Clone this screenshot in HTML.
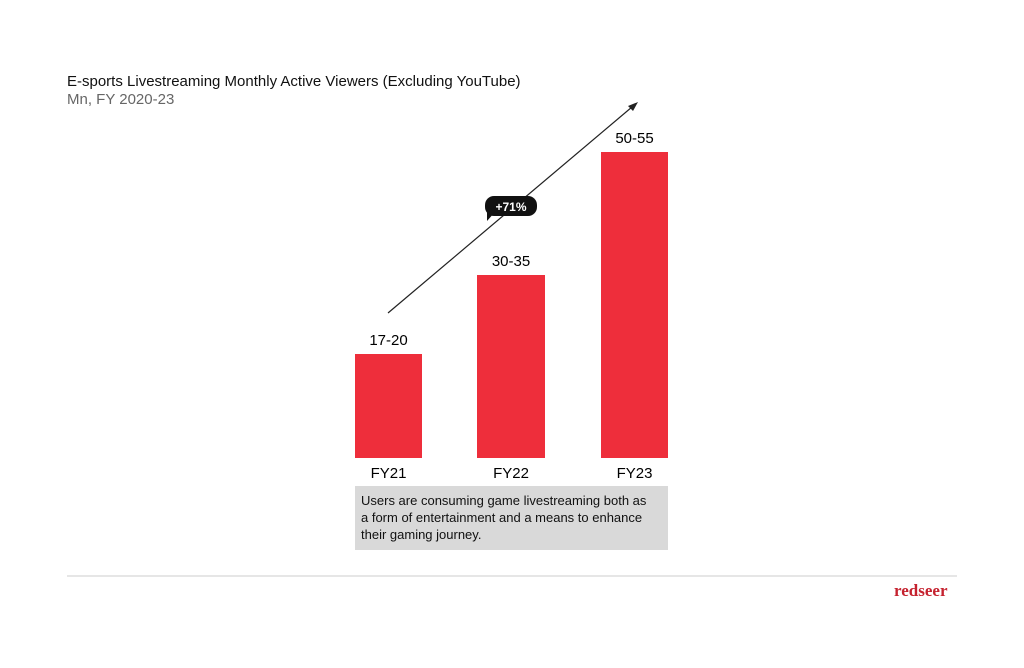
<!DOCTYPE html>
<html><head><style>
body{margin:0;width:1024px;height:668px;background:#fff;position:relative;font-family:"Liberation Sans",sans-serif;overflow:hidden}
.t{position:absolute;white-space:nowrap}
.bar{position:absolute;background:#ee2e3b}
</style></head><body>
<div class="t" style="left:67px;top:73px;font-size:15px;color:#111">E-sports Livestreaming Monthly Active Viewers (Excluding YouTube)</div>
<div class="t" style="left:67px;top:91px;font-size:15px;color:#666">Mn, FY 2020-23</div>
<div class="bar" style="left:355px;top:354px;width:67px;height:104px"></div>
<div class="bar" style="left:477px;top:275px;width:68px;height:183px"></div>
<div class="bar" style="left:601px;top:152px;width:67px;height:306px"></div>
<div class="t" style="left:355px;width:67px;text-align:center;top:332px;font-size:15px">17-20</div>
<div class="t" style="left:477px;width:68px;text-align:center;top:253px;font-size:15px">30-35</div>
<div class="t" style="left:601px;width:67px;text-align:center;top:130px;font-size:15px">50-55</div>
<div class="t" style="left:355px;width:67px;text-align:center;top:465px;font-size:15px">FY21</div>
<div class="t" style="left:477px;width:68px;text-align:center;top:465px;font-size:15px">FY22</div>
<div class="t" style="left:601px;width:67px;text-align:center;top:465px;font-size:15px">FY23</div>
<svg style="position:absolute;left:0;top:0" width="1024" height="668">
<line x1="388" y1="313" x2="632" y2="107" stroke="#222" stroke-width="1.2"/>
<polygon points="638,102 628,106 633,111" fill="#222"/>
<rect x="485" y="196" width="52" height="20" rx="9" fill="#111"/>
<polygon points="487,206 487,221 495,212" fill="#111"/>
<text x="511" y="211" font-size="12" fill="#fff" text-anchor="middle" font-family="Liberation Sans" font-weight="bold">+71%</text>
<line x1="67" y1="576" x2="957" y2="576" stroke="#ccc" stroke-width="1"/>
</svg>
<div style="position:absolute;left:355px;top:486px;width:301px;height:52px;padding:6px;background:#d9d9d9;font-size:13px;line-height:17px;color:#111;white-space:nowrap">Users are consuming game livestreaming both as<br>a form of entertainment and a means to enhance<br>their gaming journey.</div>
<div class="t" style="left:894px;top:581px;font-family:'Liberation Serif',serif;font-weight:bold;font-size:17px;color:#c5222f">redseer</div>
</body></html>
